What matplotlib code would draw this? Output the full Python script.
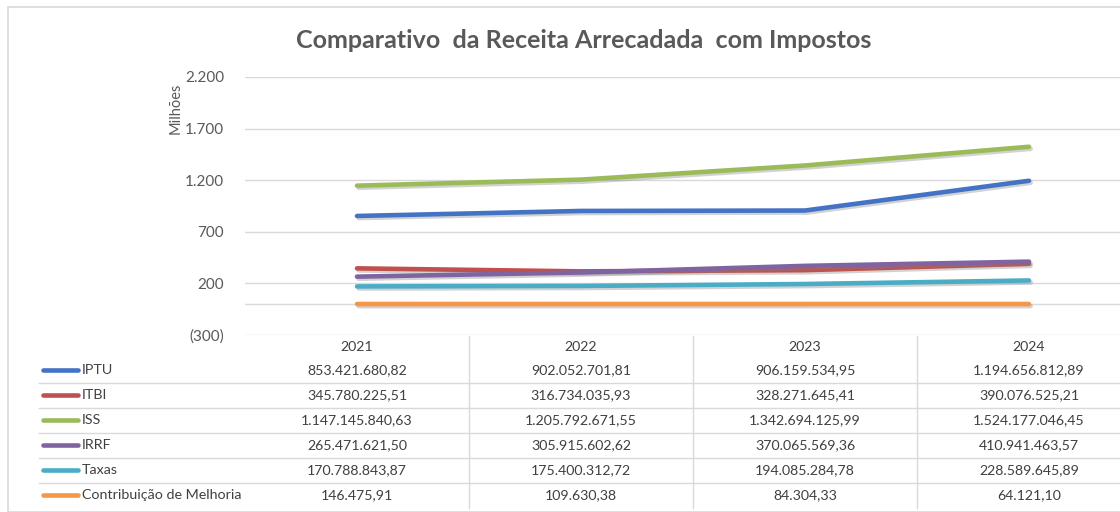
import matplotlib
matplotlib.use("Agg")
import matplotlib.pyplot as plt
import matplotlib.patheffects as pe
import matplotlib.transforms as mtrans
from matplotlib.lines import Line2D
from matplotlib.patches import Rectangle

plt.rcParams['font.family'] = ['Lato', 'DejaVu Sans']

years = ["2021", "2022", "2023", "2024"]
series_names = ["IPTU", "ITBI", "ISS", "IRRF", "Taxas", "Contribuição de Melhoria"]
iptu = [853421680.82, 902052701.81, 906159534.95, 1194656812.89]
itbi = [345780225.51, 316734035.93, 328271645.41, 390076525.21]
iss = [1147145840.63, 1205792671.55, 1342694125.99, 1524177046.45]
irrf = [265471621.50, 305915602.62, 370065569.36, 410941463.57]
taxas = [170788843.87, 175400312.72, 194085284.78, 228589645.89]
contrib = [146475.91, 109630.38, 84304.33, 64121.10]
series_values = [iptu, itbi, iss, irrf, taxas, contrib]
colors = ["#4472C4", "#C0504D", "#9BBB59", "#8064A2", "#4BACC6", "#F79646"]
yticks = [-300, 200, 700, 1200, 1700, 2200]
title = "Comparativo  da Receita Arrecadada  com Impostos"


def fmt_br(v):
    s = f"{v:,.2f}"
    return s.replace(",", "X").replace(".", ",").replace("X", ".")


def fmt_tick(v):
    s = f"{abs(v):,.0f}".replace(",", ".")
    return f"({s})" if v < 0 else s


W, H = 1120, 512
fig = plt.figure(figsize=(W / 100, H / 100), dpi=100)
fig.patch.set_facecolor("white")

# chart border
fig.add_artist(Rectangle((8 / W, 1 - 512 / H), 1.2, (512 - 7) / H, transform=fig.transFigure,
                         fill=False, edgecolor="#D9D9D9", lw=1.2))

left, right, top, bottom = 245, 1141, 77, 335
ax = fig.add_axes([left / W, 1 - bottom / H, (right - left) / W, (bottom - top) / H])
x = list(range(len(years)))
ax.set_xlim(-0.5, len(years) - 0.5)
ax.set_ylim(-300, 2200)
ax.set_yticks(yticks)
ax.set_yticklabels([fmt_tick(v) for v in yticks], color="#595959", fontsize=11)
ax.tick_params(axis="y", length=0, pad=15)
ax.set_xticks([])
for s in ax.spines.values():
    s.set_visible(False)
ax.grid(axis="y", color="#D9D9D9", lw=1)
ax.axhline(0, color="#D9D9D9", lw=1, zorder=1)
ax.set_ylabel("Milhões", color="#595959", fontsize=10.5)
ax.yaxis.set_label_coords((183 - left) / (right - left), (335 - 108) / (335 - 77))

for vals, c in zip(series_values, colors):
    ax.plot(x, [v / 1e6 for v in vals], color=c, lw=3.3, solid_capstyle="round", zorder=3,
            path_effects=[pe.SimpleLineShadow(offset=(1.2, -1.5), shadow_color="#7F7F7F", alpha=0.35),
                          pe.Normal()])

fig.text(584 / W, 1 - 40 / H, title, ha="center", va="center", fontsize=18,
         fontweight="bold", color="#595959")

# data table
bt = mtrans.blended_transform_factory(ax.transData, fig.transFigure)
def fy(py):
    return 1 - py / H

for i, yr in enumerate(years):
    fig.text(i, fy(347), yr, transform=bt, ha="center", va="center", fontsize=10.2, color="#404040")

row_y = [370, 395, 420, 445, 470, 495]
for r, (name, vals, c) in enumerate(zip(series_names, series_values, colors)):
    yy = fy(row_y[r])
    fig.add_artist(Line2D([43 / W, 78 / W], [yy, yy], transform=fig.transFigure, color=c,
                          lw=3.3, solid_capstyle="round"))
    fig.text(82 / W, yy, name, ha="left", va="center", fontsize=10.3, color="#404040")
    for i, v in enumerate(vals):
        fig.text(i, yy, fmt_br(v), transform=bt, ha="center", va="center", fontsize=10.2,
                 color="#404040")

for ly in [383, 408, 433, 458, 483]:
    fig.add_artist(Line2D([39 / W, 1.0], [fy(ly), fy(ly)], transform=fig.transFigure,
                          color="#D9D9D9", lw=1))
for i in range(1, len(years)):
    fig.add_artist(Line2D([i - 0.5, i - 0.5], [fy(336), fy(508)], transform=bt,
                          color="#D9D9D9", lw=1))

fig.savefig("out.png", dpi=100)
